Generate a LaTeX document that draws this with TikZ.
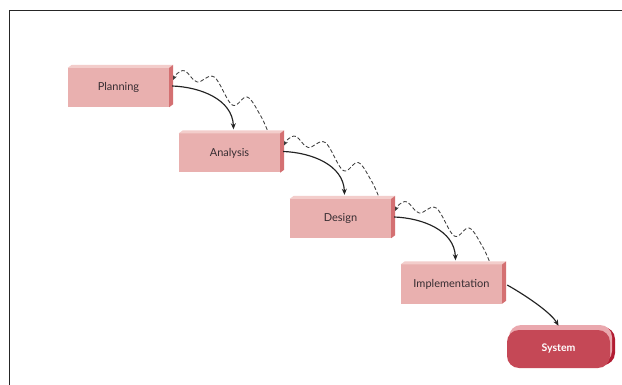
\documentclass[tikz,border=0pt]{standalone}
\usepackage{fontspec}
\setmainfont{Lato}
\usetikzlibrary{arrows.meta}

\definecolor{boxfront}{RGB}{233,176,175}
\definecolor{boxtop}{RGB}{243,205,203}
\definecolor{boxside}{RGB}{212,112,114}
\definecolor{stagetext}{RGB}{55,45,50}
\definecolor{sysfront}{RGB}{197,72,86}
\definecolor{systop}{RGB}{234,168,174}
\definecolor{sysside}{RGB}{178,28,50}
\definecolor{flowcol}{RGB}{35,35,35}
\definecolor{fbcol}{RGB}{60,60,60}

\tikzset{
  stage/.style={rectangle, fill=boxfront, minimum width=101pt, minimum height=39pt,
    inner sep=0pt, text=stagetext, font=\fontsize{11}{13}\selectfont},
  sysbox/.style={rectangle, rounded corners=12pt, fill=sysfront, minimum width=103pt,
    minimum height=38pt, inner sep=0pt, text=white, font=\fontsize{10.5}{12}\selectfont\bfseries},
  flow/.style={draw=flowcol, line width=1.15pt, -{Stealth[length=6pt,width=5pt]}},
  feedback/.style={draw=fbcol, line width=0.85pt, dash pattern=on 3.8pt off 2.2pt,
    -{Stealth[length=4.5pt,width=4pt]}},
  frameline/.style={draw=black!85, line width=1.9pt},
}

\begin{document}
\begin{tikzpicture}[x=1pt, y=-1pt]
  \useasboundingbox[fill=white] (0,0) rectangle (622,385);

  % outer frame (left and top edges only)
  \draw[frameline] (9.5,385) -- (9.5,10.5) -- (622,10.5);

  % the four stages, each with a raised top and side face
  \foreach \n/\x/\y/\t in {plan/118.5/87.5/Planning, ana/229.5/153/Analysis,
                           des/340.5/218.5/Design, imp/451.5/284/Implementation} {
    \node[stage] (\n) at (\x,\y) {\t};
    \fill[boxtop] (\n.north west) -- ++(4,-3) -- ([shift={(4,-3)}]\n.north east)
      -- (\n.north east) -- cycle;
    \fill[boxside] (\n.north east) -- ++(4,-3) -- ([shift={(4,-3)}]\n.south east)
      -- (\n.south east) -- cycle;
  }

  % the resulting system, a raised rounded slab
  \fill[sysside, rounded corners=12pt] (512,327) rectangle (615,365);
  \fill[systop, rounded corners=12pt] (509,325) rectangle (612,363);
  \node[sysbox] (sys) at (558.5,349) {System};

  % forward flow from each stage to the next
  \foreach \a/\b in {plan/ana, ana/des, des/imp} {
    \draw[flow] ([shift={(3,-1.5)}]\a.east) .. controls +(28,1) and +(-1,-30)
      .. ([shift={(4,-4)}]\b.north);
  }
  \draw[flow] ([shift={(5,1)}]imp.east) .. controls +(16,9) and +(-8,-14)
    .. ([shift={(0,-4)}]sys.north);

  % wavy feedback from each stage back to the previous one
  \foreach \a/\b in {plan/ana, ana/des, des/imp} {
    \draw[feedback] plot[smooth, tension=0.6] coordinates {
      ([shift={(-13,-3.5)}]\b.north east)
      ([shift={(91,27.5)}]\a.east)
      ([shift={(78,9.5)}]\a.east)
      ([shift={(63,17.5)}]\a.east)
      ([shift={(45,-10.5)}]\a.east)
      ([shift={(28,-5.5)}]\a.east)
      ([shift={(16,-16.5)}]\a.east)
      ([shift={(8,-14)}]\a.east)
      ([shift={(4,-7.5)}]\a.east)};
  }
\end{tikzpicture}
\end{document}
